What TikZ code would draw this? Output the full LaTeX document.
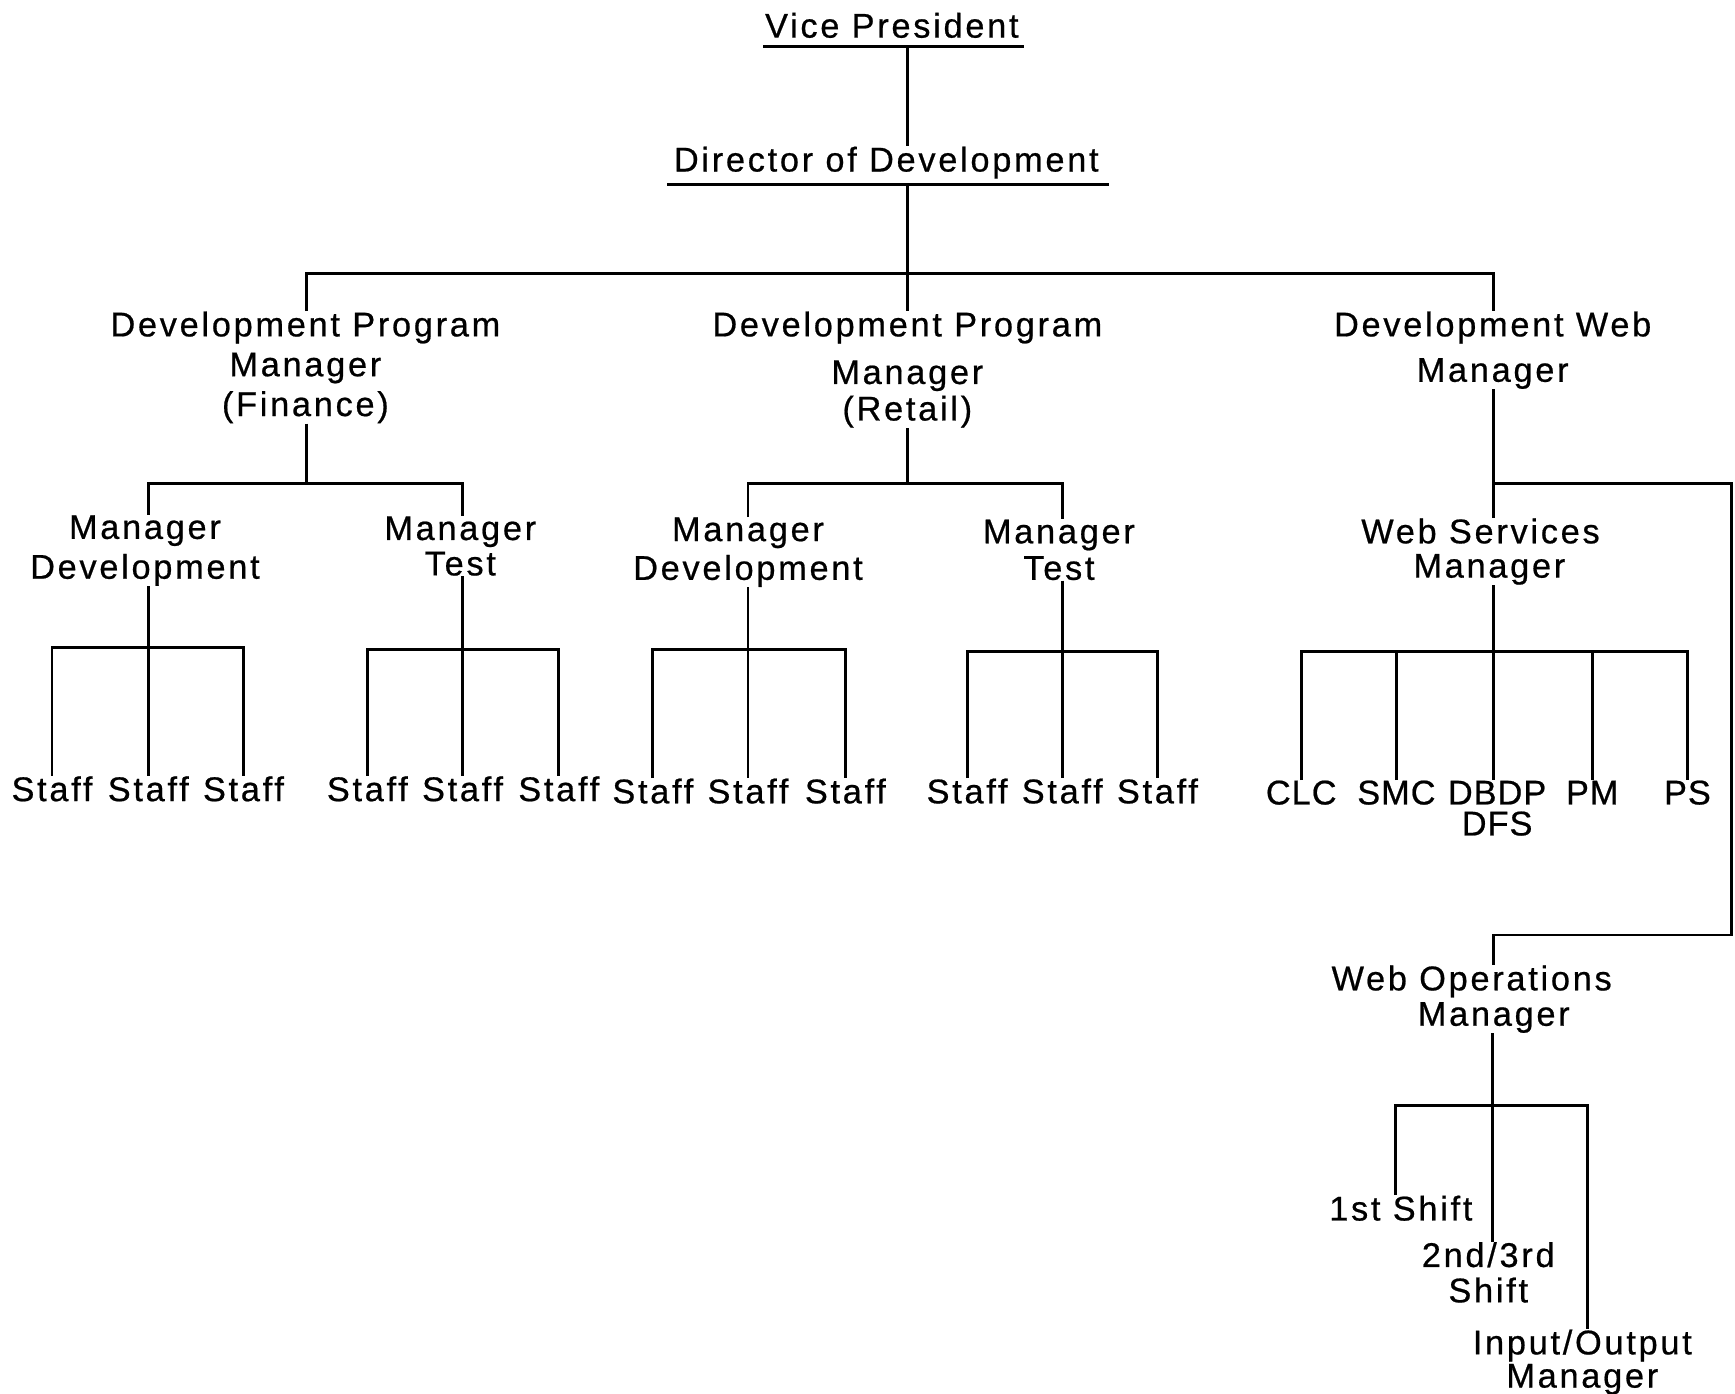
\documentclass[tikz,border=0pt]{standalone}
\usepackage{fontspec}
\setmainfont{Liberation Sans}[LetterSpace=8,FakeBold=0.6]
\begin{document}
\begin{tikzpicture}[x=0.5pt,y=-0.5pt,
  lbl/.style={inner sep=0pt,anchor=base,align=center,font=\fontsize{15.5}{18}\selectfont},
  tight/.style={lbl,font=\fontsize{15.5}{18}\selectfont\addfontfeatures{LetterSpace=3}},
  wire/.style={line width=1.3pt}]
\useasboundingbox (0,0) rectangle (1568,1259);
% ---------- labels (multi-line: anchor at baseline of last line) ----------
\node[lbl] (vp)   at (806,34)  {Vice President};
\node[lbl] (dir)  at (801,155) {Director of Development};
\node[lbl] (dpmf) at (276,376) {Development Program\\Manager\\(Finance)};
\node[lbl] (dpmr) at (820,380) {Development Program\\[3.5pt]Manager\\[-1.5pt](Retail)};
\node[lbl] (dwm)  at (1349,345) {Development Web\\[2.5pt]Manager};
\node[lbl] (mdl)  at (131,523) {Manager\\Development};
\node[lbl] (mtl)  at (416,520) {Manager\\[-2pt]Test};
\node[lbl] (mdr)  at (676,524) {Manager\\[-0.5pt]Development};
\node[lbl] (mtr)  at (957,524) {Manager\\[-1.5pt]Test};
\node[lbl] (wsm)  at (1338,522) {Web Services\\[-2.5pt]\hspace*{8pt}Manager};
\node[lbl] (s1a) at (47,724) {Staff};
\node[lbl] (s1b) at (134,724) {Staff};
\node[lbl] (s1c) at (220,724) {Staff};
\node[lbl] (s2a) at (332,724) {Staff};
\node[lbl] (s2b) at (418,724) {Staff};
\node[lbl] (s2c) at (505,724) {Staff};
\node[lbl] (s3a) at (590,726) {Staff};
\node[lbl] (s3b) at (676,726) {Staff};
\node[lbl] (s3c) at (764,726) {Staff};
\node[lbl] (s4a) at (874,726) {Staff};
\node[lbl] (s4b) at (960,726) {Staff};
\node[lbl] (s4c) at (1046,726) {Staff};
\node[tight] (clc)  at (1176,727) {CLC};
\node[tight] (smc)  at (1262,727) {SMC};
\node[tight] (dbdp) at (1353,755) {DBDP\\[-4pt]DFS};
\node[tight] (pm)   at (1439,727) {PM};
\node[tight] (ps)   at (1525,727) {PS};
\node[lbl] (wom)  at (1330,927) {Web Operations\\[-2pt]\hspace*{20pt}Manager};
\node[lbl] (sh1)  at (1266,1103) {1st Shift};
\node[lbl] (sh2)  at (1345,1177) {2nd/3rd\\[-2pt]Shift};
\node[lbl] (iom)  at (1430,1254) {Input/Output\\[-3pt]Manager};
% ---------- underlines ----------
\draw[wire] (690,42) -- (925,42);
\draw[wire] (603,167) -- (1002,167);
% ---------- junctions ----------
\coordinate (vpU)  at (820,42);
\coordinate (dirU) at (820,167);
\coordinate (bus)  at (820,247);
\coordinate (jF)   at (277,437);
\coordinate (jFL)  at (134,437);
\coordinate (jFR)  at (418,437);
\coordinate (jR)   at (820,437);
\coordinate (jRL)  at (676,437);
\coordinate (jRR)  at (960,437);
\coordinate (jDL)  at (134,585);
\coordinate (jTL)  at (418,587);
\coordinate (jDR)  at (676,587);
\coordinate (jTR)  at (960,589);
\coordinate (wA)   at (1350,437);
\coordinate (wB)   at (1565,437);
\coordinate (wC)   at (1565,845);
\coordinate (wD)   at (1350,845);
\coordinate (jS)   at (1350,589);
\coordinate (jO)   at (1349,999);
\coordinate (jO1)  at (1261,999);
\coordinate (jO3)  at (1435,999);
% ---------- connectors ----------
\draw[wire] (vpU) -- (dir.north -| vpU);
\draw[wire] (dirU) -- (dpmr.north -| dirU);
\draw[wire] (dpmf.north -| jF) |- (bus) -| (dwm.north -| wA);
% Finance
\draw[wire] (dpmf.south -| jF) -- (jF);
\draw[wire] (mdl.north -| jFL) -- (jFL) -- (jFR) -- (mtl.north -| jFR);
\draw[wire] (mdl.south -| jDL) -- (s1b.north);
\draw[wire] (s1a.north) |- (jDL) -| (s1c.north);
\draw[wire] (mtl.south -| jTL) -- (s2b.north);
\draw[wire] (s2a.north) |- (jTL) -| (s2c.north);
% Retail
\draw[wire] (dpmr.south -| jR) -- (jR);
\draw[wire] (mdr.north -| jRL) -- (jRL) -- (jRR) -- (mtr.north -| jRR);
\draw[wire] (mdr.south -| jDR) -- (s3b.north);
\draw[wire] (s3a.north) |- (jDR) -| (s3c.north);
\draw[wire] (mtr.south -| jTR) -- (s4b.north);
\draw[wire] (s4a.north) |- (jTR) -| (s4c.north);
% Web
\draw[wire] (dwm.south -| wA) -- (wsm.north -| wA);
\draw[wire] (wA) -- (wB) -- (wC) -- (wD) -- (wom.north -| wD);
\draw[wire] (wsm.south -| jS) -- (dbdp.north -| jS);
\draw[wire] (clc.north) |- (jS) -| (ps.north);
\draw[wire] (smc.north) -- (smc.north |- jS);
\draw[wire] (pm.north) -- (pm.north |- jS);
% Web operations
\draw[wire] (wom.south -| jO) -- (sh2.north -| jO);
\draw[wire] (sh1.north -| jO1) -- (jO1) -- (jO3) -- (iom.north -| jO3);
\end{tikzpicture}
\end{document}
